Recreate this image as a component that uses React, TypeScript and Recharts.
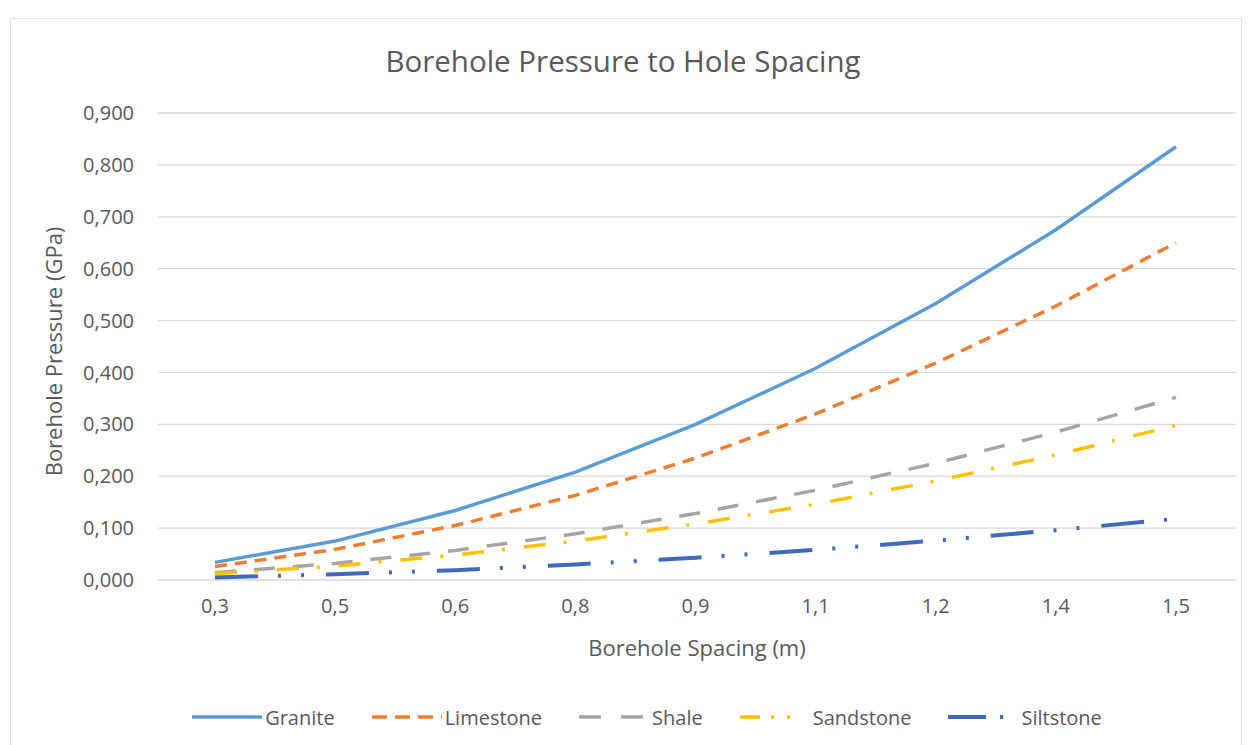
import React from "react";
import { LineChart, Line, XAxis, YAxis, CartesianGrid, Legend } from "recharts";

// Borehole spacing categories (m) and pressure per rock type (GPa)
const spacing = ["0,3", "0,5", "0,6", "0,8", "0,9", "1,1", "1,2", "1,4", "1,5"];
const granite = [0.034, 0.075, 0.134, 0.208, 0.3, 0.408, 0.533, 0.675, 0.835];
const limestone = [0.026, 0.059, 0.105, 0.163, 0.235, 0.32, 0.418, 0.528, 0.65];
const shale = [0.014, 0.032, 0.057, 0.089, 0.128, 0.173, 0.225, 0.285, 0.352];
const sandstone = [0.012, 0.027, 0.048, 0.075, 0.108, 0.146, 0.191, 0.241, 0.298];
const siltstone = [0.005, 0.011, 0.019, 0.03, 0.043, 0.058, 0.076, 0.096, 0.118];
const yTicks = [0, 0.1, 0.2, 0.3, 0.4, 0.5, 0.6, 0.7, 0.8, 0.9];

type SeriesDef = {
  key: string;
  name: string;
  color: string;
  width: number;
  dash?: string;
  legendDash?: string;
};

const series: SeriesDef[] = [
  { key: "granite", name: "Granite", color: "#5B9BD5", width: 3.5 },
  { key: "limestone", name: "Limestone", color: "#ED7D31", width: 3.5, dash: "12 8", legendDash: "15 8" },
  { key: "shale", name: "Shale", color: "#A5A5A5", width: 3.5, dash: "21 18", legendDash: "22 20" },
  { key: "sandstone", name: "Sandstone", color: "#FFC000", width: 3.5, dash: "22 18 3 19", legendDash: "20 11 3 13 3 20" },
  { key: "siltstone", name: "Siltstone", color: "#3F69B9", width: 4, dash: "43 20 3 20 3 22", legendDash: "38 14 3 20" },
];

const values: Record<string, number[]> = { granite, limestone, shale, sandstone, siltstone };

const data = spacing.map((s, i) => {
  const row: Record<string, string | number> = { spacing: s };
  series.forEach((d) => (row[d.key] = values[d.key][i]));
  return row;
});

const fmt = (v: number) => v.toFixed(3).replace(".", ",");
const textColor = "#595959";
const font = "'Open Sans', sans-serif";

function LegendRow() {
  return (
    <div
      style={{
        display: "flex",
        justifyContent: "center",
        alignItems: "center",
        height: 24,
        fontFamily: font,
        fontSize: 20,
        color: textColor,
      }}
    >
      {series.map((s) => (
        <div key={s.key} style={{ display: "flex", alignItems: "center", margin: "0 18.5px" }}>
          <svg width={70} height={10}>
            <line x1={0} y1={5} x2={70} y2={5} stroke={s.color} strokeWidth={s.width} strokeDasharray={s.legendDash} />
          </svg>
          <span style={{ marginLeft: 3 }}>{s.name}</span>
        </div>
      ))}
    </div>
  );
}

export default function App() {
  return (
    <div style={{ position: "absolute", left: 0, top: 0, width: 1252, height: 745, background: "#fff" }}>
      <div
        style={{
          position: "absolute",
          left: 10,
          top: 18,
          width: 1230,
          height: 740,
          border: "1px solid #e2e2e2",
        }}
      />
      <div
        style={{
          position: "absolute",
          left: 0,
          top: 40,
          width: 1246,
          textAlign: "center",
          fontFamily: font,
          fontSize: 29.5,
          color: textColor,
        }}
      >
        Borehole Pressure to Hole Spacing
      </div>
      <LineChart
        width={1252}
        height={745}
        data={data}
        margin={{ top: 113, right: 16, left: 58, bottom: 16 }}
        style={{ position: "absolute", left: 0, top: 0 }}
      >
        <CartesianGrid vertical={false} stroke="#d9d9d9" strokeWidth={1.3} />
        <XAxis
          dataKey="spacing"
          height={125}
          padding={{ left: 57, right: 60 }}
          axisLine={false}
          tickLine={false}
          tickSize={0}
          tickMargin={19}
          tick={{ fill: textColor, fontSize: 20, fontFamily: font }}
          label={{
            content: ({ viewBox }: any) => (
              <text
                x={viewBox.x + viewBox.width / 2}
                y={viewBox.y + 76}
                textAnchor="middle"
                fill={textColor}
                fontSize={22}
                fontFamily={font}
              >
                Borehole Spacing (m)
              </text>
            ),
          }}
        />
        <YAxis
          width={100}
          domain={[0, 0.9]}
          ticks={yTicks}
          tickFormatter={fmt}
          axisLine={false}
          tickLine={false}
          tickSize={0}
          tickMargin={24}
          tick={{ fill: textColor, fontSize: 20, fontFamily: font }}
          label={{
            content: ({ viewBox }: any) => {
              const cx = viewBox.x - 5;
              const cy = viewBox.y + viewBox.height / 2 + 5;
              return (
                <text
                  x={cx}
                  y={cy}
                  transform={`rotate(-90 ${cx} ${cy})`}
                  textAnchor="middle"
                  dominantBaseline="central"
                  fill={textColor}
                  fontSize={22}
                  fontFamily={font}
                >
                  Borehole Pressure (GPa)
                </text>
              );
            },
          }}
        />
        <Legend verticalAlign="bottom" content={<LegendRow />} />
        {series.map((s) => (
          <Line
            key={s.key}
            type="linear"
            dataKey={s.key}
            name={s.name}
            stroke={s.color}
            strokeWidth={s.width}
            strokeDasharray={s.dash}
            dot={false}
            activeDot={false}
            isAnimationActive={false}
          />
        ))}
      </LineChart>
    </div>
  );
}
